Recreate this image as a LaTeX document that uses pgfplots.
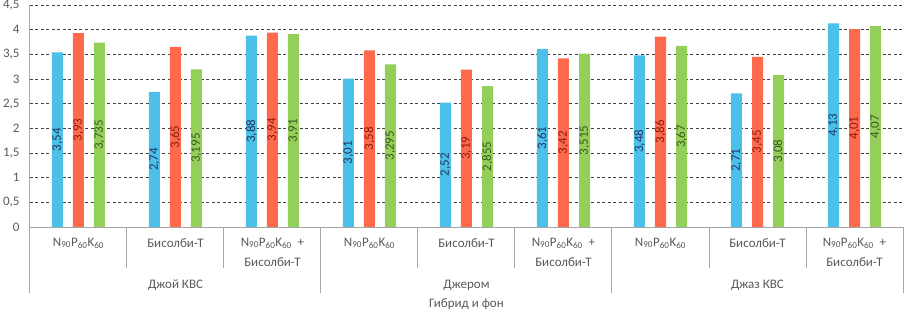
\documentclass[border=0pt]{standalone}
\usepackage{fontspec}
\setmainfont{Carlito}
\usepackage{pgfplots}
\usepackage{pgfplotstable}
\pgfplotsset{compat=1.18}
\definecolor{cb}{HTML}{4CC0E8}
\definecolor{cr}{HTML}{FF6A4D}
\definecolor{cg}{HTML}{94CF5A}
\definecolor{tb}{HTML}{1F3864}
\definecolor{tr}{HTML}{8B1A0E}
\definecolor{tg}{HTML}{3A5A1E}
\definecolor{txt}{HTML}{595959}
\definecolor{axc}{HTML}{A6A6A6}
\newcommand\npk{N\textsubscript{90}P\textsubscript{60}K\textsubscript{60}}
\newcommand\fs{\fontsize{13}{15.5}\selectfont}
\pgfplotstableread{
x b r g
0 3.54 3.93 3.735
1 2.74 3.65 3.195
2 3.88 3.94 3.91
3 3.01 3.58 3.295
4 2.52 3.19 2.855
5 3.61 3.42 3.515
6 3.48 3.86 3.67
7 2.71 3.45 3.08
8 4.13 4.01 4.07
}\data
\begin{document}
\begin{tikzpicture}
\begin{axis}[
  scale only axis, width=873pt, height=222pt,
  xmin=-0.5, xmax=8.5, ymin=0, ymax=4.5,
  ybar=10pt, bar width=11pt,
  ytick={0,0.5,1,1.5,2,2.5,3,3.5,4,4.5},
  xtick=\empty,
  major tick length=0pt,
  ymajorgrids, grid style={dash pattern=on 3pt off 2.5pt, black!75, line width=0.6pt},
  axis line style={draw=none},
  clip=false,
  /pgf/number format/use comma,
  /pgf/number format/assume math mode=true,
  yticklabel style={font=\fs, text=txt, xshift=-7pt},
  visualization depends on=y \as \rawy,
  nodes near coords={\pgfmathprintnumber[fixed, precision=3, use comma, assume math mode=true]{\pgfplotspointmeta}},
  every node near coord/.append style={font=\fs, anchor=center, shift={(axis direction cs:0,-\rawy/2)}, rotate=90},
]
\addplot[fill=cb, draw=none, every node near coord/.append style={text=tb}] table[x=x,y=b]{\data};
\addplot[fill=cr, draw=none, every node near coord/.append style={text=tr}] table[x=x,y=r]{\data};
\addplot[fill=cg, draw=none, every node near coord/.append style={text=tg}] table[x=x,y=g]{\data};
% axis lines and separators
\draw[axc, line width=1pt] (axis cs:-0.5,0) -- (axis cs:8.5,0);
\draw[axc, line width=1pt] (axis cs:-0.5,4.5) -- ([yshift=-66pt]axis cs:-0.5,0);
\pgfplotsinvokeforeach{0.5,1.5,3.5,4.5,6.5,7.5}{
  \draw[axc, line width=1pt] (axis cs:#1,0) -- ([yshift=-41pt]axis cs:#1,0);
}
\pgfplotsinvokeforeach{2.5,5.5,8.5}{
  \draw[axc, line width=1pt] (axis cs:#1,0) -- ([yshift=-66pt]axis cs:#1,0);
}
\pgfplotsinvokeforeach{0,3,6}{
  \node[font=\fs, text=txt, anchor=center] at ([yshift=-16pt]axis cs:#1,0) {\npk};
}
\pgfplotsinvokeforeach{1,4,7}{
  \node[font=\fs, text=txt, anchor=center] at ([yshift=-16pt]axis cs:#1,0) {Бисолби-Т};
}
\pgfplotsinvokeforeach{2,5,8}{
  \node[font=\fs, text=txt, anchor=center] at ([yshift=-16pt]axis cs:#1,0) {\npk\ \ +};
  \node[font=\fs, text=txt, anchor=center] at ([yshift=-35pt]axis cs:#1,0) {Бисолби-Т};
}
\node[font=\fs, text=txt] at ([yshift=-58pt]axis cs:1,0) {Джой КВС};
\node[font=\fs, text=txt] at ([yshift=-58pt]axis cs:4,0) {Джером};
\node[font=\fs, text=txt] at ([yshift=-58pt]axis cs:7,0) {Джаз КВС};
\node[font=\fs, text=txt] at ([yshift=-77pt]axis cs:4,0) {Гибрид и фон};
\end{axis}
\pgfresetboundingbox
\path (-30pt,-86pt) rectangle (874pt,227pt);
\end{tikzpicture}
\end{document}
